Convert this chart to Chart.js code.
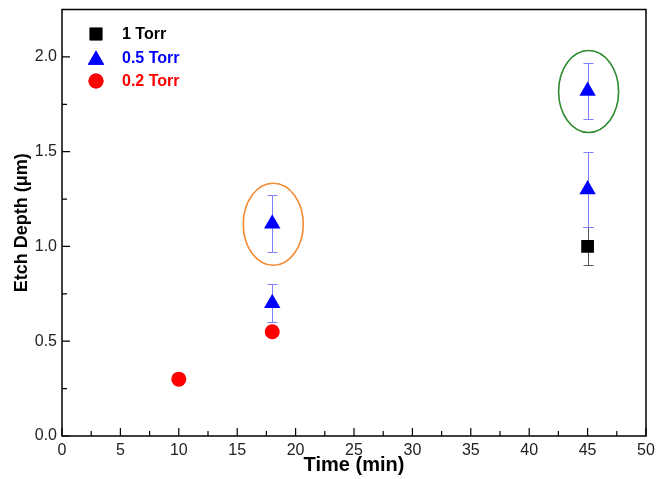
<!DOCTYPE html>
<html>
<head>
<meta charset="utf-8">
<script src="https://cdn.jsdelivr.net/npm/chart.js@4"></script>
<style>
  html, body { margin: 0; padding: 0; background: #fff; }
  #wrap { width: 656px; height: 479px; }
</style>
</head>
<body>
<div id="wrap"><canvas id="etchChart" width="656" height="479"></canvas></div>
<script>
// data
var torr1Time = [45];
var torr1Depth = [1.0];
var torr1Err = [0.1];

var torr05Time = [18, 18, 45, 45];
var torr05Depth = [0.70, 1.12, 1.30, 1.82];
var torr05Err = [0.10, 0.15, 0.20, 0.15];

var torr02Time = [10, 18];
var torr02Depth = [0.30, 0.55];

var seriesLabels = ['1 Torr', '0.5 Torr', '0.2 Torr'];
// points circled in the figure
var circledTime = [18, 45];
var circledDepth = [1.12, 1.82];

var circleColors = ['#f28a30', '#2e8b2e'];
var FONT = '"Liberation Sans", Arial, sans-serif';

function toPoints(xs, ys) {
    return xs.map(function(x, i) { return { x: x, y: ys[i] }; });
}

// draws error bars, inward ticks, frame, ellipses and the legend
var decorPlugin = {
    id: 'decor',
    beforeDatasetsDraw: function(chart) {
        var ctx = chart.ctx;
        var xs = chart.scales.x, ys = chart.scales.y;
        chart.data.datasets.forEach(function(ds) {
            if (!ds.errors) return;
            ctx.save();
            ctx.strokeStyle = ds.errColor;
            ctx.lineWidth = 1;
            ds.data.forEach(function(p, i) {
                var px = Math.round(xs.getPixelForValue(p.x)) + 0.5;
                var top = Math.round(ys.getPixelForValue(p.y + ds.errors[i])) + 0.5;
                var bot = Math.round(ys.getPixelForValue(p.y - ds.errors[i])) + 0.5;
                ctx.beginPath();
                ctx.moveTo(px, top); ctx.lineTo(px, bot);
                ctx.moveTo(px - 5, top); ctx.lineTo(px + 5, top);
                ctx.moveTo(px - 5, bot); ctx.lineTo(px + 5, bot);
                ctx.stroke();
            });
            ctx.restore();
        });
    },
    afterDraw: function(chart) {
        var ctx = chart.ctx;
        var a = chart.chartArea;
        var xs = chart.scales.x, ys = chart.scales.y;
        ctx.save();
        ctx.strokeStyle = '#000';
        ctx.lineWidth = 1.5;
        ctx.strokeRect(a.left, a.top, a.right - a.left, a.bottom - a.top);

        // inward ticks
        ctx.lineWidth = 1.2;
        ctx.beginPath();
        for (var t = 0; t <= 50; t += 2.5) {
            var px = xs.getPixelForValue(t);
            var len = (t % 5 === 0) ? 8 : 5;
            ctx.moveTo(px, a.bottom); ctx.lineTo(px, a.bottom - len);
        }
        for (var v = 0; v <= 2.25; v += 0.25) {
            var py = ys.getPixelForValue(v);
            var l2 = (Math.abs(v * 2 - Math.round(v * 2)) < 1e-6) ? 8 : 5;
            ctx.moveTo(a.left, py); ctx.lineTo(a.left + l2, py);
        }
        ctx.stroke();

        // highlight ellipses
        ctx.lineWidth = 1.6;
        circledTime.forEach(function(t, i) {
            ctx.strokeStyle = circleColors[i];
            ctx.beginPath();
            ctx.ellipse(xs.getPixelForValue(t) + 1, ys.getPixelForValue(circledDepth[i]) + 0.5, 30, 41, 0, 0, Math.PI * 2);
            ctx.stroke();
        });

        // legend
        var rows = [34, 58, 81];
        chart.data.datasets.forEach(function(ds, i) {
            ctx.save();
            ctx.fillStyle = ds.backgroundColor;
            Chart.helpers.drawPoint(ctx, {
                pointStyle: ds.pointStyle, radius: ds.pointRadius, rotation: 0, borderWidth: 0
            }, 96, rows[i] + (ds.pointStyle === 'triangle' ? 2 : 0));
            ctx.fill();
            ctx.restore();
            ctx.fillStyle = ds.backgroundColor;
            ctx.font = 'bold 16px ' + FONT;
            ctx.textBaseline = 'middle';
            ctx.textAlign = 'left';
            ctx.fillText(ds.label, 122, rows[i] + 1);
        });
        ctx.restore();
    }
};

var ctx = document.getElementById('etchChart').getContext('2d');
var etchChart = new Chart(ctx, {
    type: 'scatter',
    data: {
        datasets: [
            {
                label: seriesLabels[0],
                data: toPoints(torr1Time, torr1Depth),
                errors: torr1Err,
                errColor: '#555555',
                pointStyle: 'rect',
                pointRadius: 9,
                backgroundColor: '#000000',
                borderWidth: 0
            },
            {
                label: seriesLabels[1],
                data: toPoints(torr05Time, torr05Depth),
                errors: torr05Err,
                errColor: '#8080ff',
                pointStyle: 'triangle',
                pointRadius: 9.5,
                backgroundColor: '#0000ff',
                borderWidth: 0
            },
            {
                label: seriesLabels[2],
                data: toPoints(torr02Time, torr02Depth),
                pointStyle: 'circle',
                pointRadius: 7.5,
                backgroundColor: '#ff0000',
                borderWidth: 0
            }
        ]
    },
    options: {
        responsive: false,
        animation: false,
        layout: { padding: { left: 0, right: 10, top: 9, bottom: 0 } },
        plugins: {
            legend: { display: false },
            tooltip: { enabled: false }
        },
        elements: { point: { hoverRadius: 9 } },
        scales: {
            x: {
                type: 'linear',
                min: 0,
                max: 50,
                grid: { display: false, drawTicks: false },
                border: { display: false },
                ticks: {
                    stepSize: 5,
                    padding: 5,
                    color: '#222',
                    font: { family: FONT, size: 16 }
                },
                title: {
                    display: true,
                    text: 'Time (min)',
                    color: '#000',
                    padding: { top: 0, bottom: 2 },
                    font: { family: FONT, size: 20, weight: 'bold' }
                },
                afterFit: function(scale) {
                    scale.height = 43;
                    scale.paddingLeft = 0;
                    scale.paddingRight = 0;
                }
            },
            y: {
                type: 'linear',
                min: 0,
                max: 2.25,
                grid: { display: false, drawTicks: false },
                border: { display: false },
                afterBuildTicks: function(scale) {
                    scale.ticks = [0, 0.5, 1, 1.5, 2].map(function(v) { return { value: v }; });
                },
                ticks: {
                    padding: 5,
                    color: '#222',
                    font: { family: FONT, size: 16 },
                    callback: function(v) { return v.toFixed(1); }
                },
                title: {
                    display: true,
                    text: 'Etch Depth (\u03bcm)',
                    color: '#000',
                    padding: { top: 11, bottom: 0 },
                    font: { family: FONT, size: 18, weight: 'bold' }
                },
                afterFit: function(scale) {
                    scale.width = 62;
                    scale.paddingTop = 0;
                    scale.paddingBottom = 0;
                }
            }
        }
    },
    plugins: [decorPlugin]
});
</script>
</body>
</html>
